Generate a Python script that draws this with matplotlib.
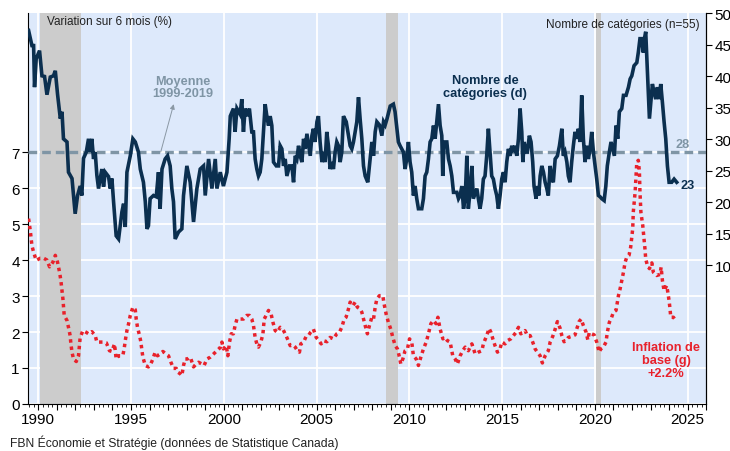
import matplotlib
matplotlib.use("Agg")
import matplotlib.pyplot as plt
from matplotlib.ticker import MultipleLocator, FuncFormatter

plt.rcParams["font.family"] = ["Liberation Sans", "DejaVu Sans"]

# Number of categories (right axis) - decimal year, value
cat_years = [
    1989.48, 1989.66, 1989.75, 1989.80, 1989.89, 1990.07, 1990.20, 1990.34, 1990.47, 1990.65,
    1990.82, 1990.92, 1991.04, 1991.19, 1991.28, 1991.36, 1991.55, 1991.63, 1991.82, 1991.99,
    1992.12, 1992.26, 1992.35, 1992.44, 1992.59, 1992.71, 1992.80, 1992.89, 1992.98, 1993.07,
    1993.16, 1993.25, 1993.43, 1993.52, 1993.61, 1993.79, 1993.88, 1993.97, 1994.06, 1994.20,
    1994.33, 1994.51, 1994.60, 1994.69, 1994.78, 1994.96, 1995.10, 1995.23, 1995.40, 1995.50,
    1995.67, 1995.77, 1995.86, 1995.94, 1996.03, 1996.21, 1996.36, 1996.48, 1996.57, 1996.67,
    1996.84, 1996.97, 1997.11, 1997.20, 1997.29, 1997.38, 1997.56, 1997.74, 1997.83, 1998.01,
    1998.19, 1998.37, 1998.55, 1998.73, 1998.91, 1999.00, 1999.18, 1999.36, 1999.54, 1999.63,
    1999.81, 1999.98, 2000.17, 2000.29, 2000.35, 2000.52, 2000.61, 2000.71, 2000.88, 2000.97,
    2001.06, 2001.15, 2001.24, 2001.38, 2001.51, 2001.60, 2001.69, 2001.78, 2001.87, 2001.96,
    2002.05, 2002.14, 2002.23, 2002.32, 2002.41, 2002.50, 2002.59, 2002.68, 2002.83, 2002.95,
    2003.04, 2003.13, 2003.22, 2003.31, 2003.40, 2003.54, 2003.67, 2003.76, 2003.85, 2003.94,
    2004.03, 2004.12, 2004.21, 2004.30, 2004.39, 2004.48, 2004.66, 2004.75, 2004.83, 2004.92,
    2005.02, 2005.10, 2005.19, 2005.29, 2005.37, 2005.46, 2005.55, 2005.64, 2005.73, 2005.82,
    2005.91, 2006.00, 2006.09, 2006.18, 2006.27, 2006.36, 2006.45, 2006.60, 2006.72, 2006.81,
    2006.90, 2006.99, 2007.17, 2007.26, 2007.35, 2007.44, 2007.53, 2007.62, 2007.76, 2007.89,
    2007.98, 2008.07, 2008.16, 2008.25, 2008.39, 2008.52, 2008.61, 2008.70, 2008.79, 2008.97,
    2009.14, 2009.23, 2009.33, 2009.41, 2009.50, 2009.68, 2009.77, 2009.86, 2009.95, 2010.04,
    2010.13, 2010.22, 2010.31, 2010.40, 2010.49, 2010.67, 2010.76, 2010.85, 2010.94, 2011.03,
    2011.12, 2011.21, 2011.30, 2011.39, 2011.48, 2011.57, 2011.66, 2011.75, 2011.80, 2011.87,
    2012.02, 2012.11, 2012.20, 2012.29, 2012.38, 2012.56, 2012.65, 2012.74, 2012.83, 2012.92,
    2013.01, 2013.10, 2013.18, 2013.27, 2013.37, 2013.45, 2013.64, 2013.72, 2013.81, 2013.90,
    2013.99, 2014.08, 2014.17, 2014.26, 2014.35, 2014.44, 2014.53, 2014.62, 2014.71, 2014.80,
    2014.89, 2014.98, 2015.07, 2015.16, 2015.25, 2015.34, 2015.43, 2015.52, 2015.61, 2015.70,
    2015.79, 2015.88, 2015.97, 2016.06, 2016.12, 2016.19, 2016.28, 2016.36, 2016.47, 2016.56,
    2016.65, 2016.72, 2016.83, 2016.90, 2016.98, 2017.05, 2017.14, 2017.23, 2017.32, 2017.41,
    2017.49, 2017.59, 2017.68, 2017.76, 2017.86, 2017.98, 2018.09, 2018.22, 2018.30, 2018.39,
    2018.49, 2018.57, 2018.66, 2018.75, 2018.84, 2018.93, 2019.02, 2019.11, 2019.20, 2019.29,
    2019.38, 2019.47, 2019.56, 2019.65, 2019.74, 2019.83, 2019.92, 2020.01, 2020.10, 2020.19,
    2020.28, 2020.37, 2020.50, 2020.59, 2020.67, 2020.78, 2020.87, 2020.96, 2021.05, 2021.14,
    2021.23, 2021.32, 2021.45, 2021.54, 2021.68, 2021.81, 2021.90, 2021.99, 2022.11, 2022.26,
    2022.34, 2022.43, 2022.52, 2022.61, 2022.67, 2022.74, 2022.83, 2022.94, 2023.03, 2023.10,
    2023.19, 2023.28, 2023.37, 2023.46, 2023.55, 2023.64, 2023.73, 2023.82, 2023.91, 2024.00,
    2024.14, 2024.27, 2024.41,
]
cat_values = [
    47.3, 44.9, 44.9, 38.3, 42.8, 44.1, 40.1, 40.0, 37.1, 39.9,
    40.1, 40.9, 37.2, 33.3, 34.4, 30.1, 29.6, 24.8, 23.8, 18.2,
    21.1, 22.6, 21.1, 27.0, 28.0, 30.1, 28.0, 30.1, 26.9, 28.0,
    24.3, 22.2, 25.3, 22.5, 24.8, 24.1, 22.2, 23.8, 20.1, 14.7,
    14.2, 18.5, 19.8, 16.1, 24.8, 27.4, 30.1, 29.6, 28.0, 25.3,
    23.2, 20.1, 15.8, 16.3, 20.6, 21.1, 20.9, 24.8, 19.0, 25.3,
    26.9, 27.4, 25.8, 22.2, 20.1, 14.2, 15.3, 15.8, 21.1, 25.8,
    23.2, 16.9, 22.2, 25.3, 25.8, 21.1, 26.9, 22.2, 26.9, 22.2,
    24.8, 22.6, 24.8, 30.1, 33.7, 34.9, 31.2, 34.9, 34.0, 36.4,
    31.2, 34.9, 33.7, 34.9, 31.2, 31.2, 26.9, 25.3, 24.2, 24.8,
    26.9, 31.2, 35.6, 33.7, 32.2, 33.7, 32.2, 26.4, 25.8, 25.8,
    29.0, 28.5, 25.8, 26.9, 24.2, 25.8, 25.8, 23.2, 27.4, 26.9,
    29.0, 27.4, 26.4, 30.1, 28.5, 30.9, 27.4, 30.6, 31.7, 29.6,
    32.8, 33.7, 29.6, 26.4, 28.0, 26.4, 31.2, 29.0, 25.3, 26.4,
    25.3, 28.0, 29.6, 29.0, 26.4, 28.0, 33.7, 32.8, 30.6, 29.0,
    28.5, 29.6, 32.8, 36.7, 33.2, 30.1, 25.8, 24.2, 23.2, 26.9,
    29.6, 27.4, 31.2, 32.8, 32.3, 30.6, 32.8, 32.3, 33.2, 35.3,
    35.6, 34.4, 31.7, 29.6, 29.0, 28.0, 25.3, 26.9, 29.6, 26.4,
    24.8, 21.1, 22.6, 20.6, 19.0, 19.0, 20.6, 24.2, 24.8, 26.9,
    29.6, 30.1, 32.2, 30.1, 32.8, 35.6, 32.2, 30.6, 24.2, 29.6,
    29.6, 26.9, 25.8, 24.2, 21.6, 21.6, 20.6, 21.1, 22.6, 19.0,
    20.6, 27.4, 19.0, 21.6, 25.8, 20.6, 22.2, 20.6, 19.0, 20.6,
    23.7, 24.2, 27.4, 31.7, 28.0, 24.2, 23.7, 22.2, 21.1, 19.0,
    21.1, 23.7, 24.8, 23.2, 26.4, 28.5, 27.4, 29.0, 28.0, 29.0,
    27.4, 30.1, 34.9, 31.2, 26.4, 29.6, 28.0, 28.0, 30.6, 29.6,
    26.4, 22.6, 20.6, 22.6, 21.1, 24.2, 25.8, 24.8, 23.2, 22.2,
    21.1, 25.8, 23.7, 23.2, 26.9, 27.4, 29.0, 31.7, 27.4, 28.0,
    26.4, 24.2, 23.2, 26.4, 29.0, 31.2, 30.1, 31.7, 29.6, 37.0,
    30.1, 26.4, 29.0, 26.9, 28.5, 31.2, 28.0, 25.8, 23.7, 21.1,
    20.9, 20.6, 20.3, 22.6, 25.8, 28.0, 29.6, 28.5, 27.4, 32.2,
    30.1, 34.4, 34.9, 37.0, 37.0, 38.3, 39.6, 40.1, 41.7, 42.2,
    43.8, 46.0, 46.0, 43.8, 46.0, 47.1, 40.7, 33.3, 36.4, 38.8,
    37.5, 36.4, 38.3, 36.4, 38.8, 35.9, 32.8, 30.1, 25.8, 23.2,
    23.2, 23.7, 23.2,
]

# Core inflation, 6-month change annualized (left axis)
infl_years = [
    1989.48, 1989.57, 1989.66, 1989.75, 1989.89, 1990.11, 1990.29, 1990.47, 1990.61, 1990.79,
    1990.92, 1991.04, 1991.15, 1991.22, 1991.28, 1991.33, 1991.40, 1991.55, 1991.63, 1991.72,
    1991.76, 1991.82, 1991.90, 1992.05, 1992.17, 1992.22, 1992.26, 1992.41, 1992.59, 1992.71,
    1992.89, 1993.07, 1993.16, 1993.34, 1993.52, 1993.67, 1993.84, 1993.97, 1994.11, 1994.20,
    1994.33, 1994.42, 1994.56, 1994.63, 1994.69, 1994.78, 1994.87, 1994.96, 1995.10, 1995.23,
    1995.28, 1995.35, 1995.46, 1995.53, 1995.59, 1995.64, 1995.77, 1995.94, 1996.03, 1996.18,
    1996.30, 1996.43, 1996.57, 1996.72, 1996.88, 1997.02, 1997.15, 1997.29, 1997.44, 1997.53,
    1997.65, 1997.74, 1997.83, 1997.92, 1998.04, 1998.15, 1998.23, 1998.37, 1998.51, 1998.64,
    1998.82, 1998.94, 1999.09, 1999.27, 1999.45, 1999.63, 1999.81, 1999.90, 1999.98, 2000.13,
    2000.22, 2000.31, 2000.40, 2000.52, 2000.61, 2000.71, 2000.88, 2001.06, 2001.24, 2001.38,
    2001.51, 2001.60, 2001.69, 2001.78, 2001.87, 2002.00, 2002.11, 2002.18, 2002.28, 2002.41,
    2002.55, 2002.65, 2002.77, 2002.89, 2003.04, 2003.18, 2003.31, 2003.43, 2003.58, 2003.72,
    2003.85, 2003.97, 2004.08, 2004.15, 2004.30, 2004.44, 2004.56, 2004.69, 2004.83, 2004.98,
    2005.10, 2005.25, 2005.37, 2005.56, 2005.73, 2005.91, 2006.09, 2006.23, 2006.36, 2006.49,
    2006.59, 2006.72, 2006.81, 2006.96, 2007.08, 2007.20, 2007.35, 2007.44, 2007.53, 2007.62,
    2007.74, 2007.85, 2007.98, 2008.07, 2008.16, 2008.25, 2008.39, 2008.57, 2008.64, 2008.75,
    2008.87, 2009.00, 2009.11, 2009.24, 2009.36, 2009.47, 2009.54, 2009.65, 2009.77, 2009.90,
    2010.01, 2010.13, 2010.22, 2010.37, 2010.49, 2010.62, 2010.76, 2010.91, 2011.03, 2011.16,
    2011.30, 2011.44, 2011.54, 2011.66, 2011.81, 2011.93, 2012.05, 2012.20, 2012.34, 2012.47,
    2012.59, 2012.74, 2012.88, 2013.01, 2013.18, 2013.37, 2013.55, 2013.72, 2013.91, 2013.99,
    2014.17, 2014.30, 2014.40, 2014.50, 2014.62, 2014.75, 2014.89, 2014.98, 2015.16, 2015.29,
    2015.47, 2015.61, 2015.75, 2015.88, 2016.01, 2016.15, 2016.24, 2016.36, 2016.51, 2016.65,
    2016.78, 2016.90, 2017.05, 2017.17, 2017.32, 2017.49, 2017.59, 2017.73, 2017.86, 2017.98,
    2018.13, 2018.22, 2018.34, 2018.45, 2018.57, 2018.76, 2018.93, 2019.02, 2019.15, 2019.26,
    2019.38, 2019.53, 2019.62, 2019.70, 2019.83, 2019.96, 2020.10, 2020.23, 2020.32, 2020.46,
    2020.60, 2020.67, 2020.78, 2020.87, 2021.00, 2021.14, 2021.27, 2021.36, 2021.45, 2021.54,
    2021.63, 2021.72, 2021.84, 2021.93, 2021.99, 2022.04, 2022.07, 2022.17, 2022.22, 2022.26,
    2022.34, 2022.40, 2022.43, 2022.48, 2022.58, 2022.65, 2022.70, 2022.74, 2022.83, 2022.94,
    2023.07, 2023.15, 2023.33, 2023.51, 2023.57, 2023.64, 2023.73, 2023.87, 2023.93, 2024.00,
    2024.05, 2024.09, 2024.23, 2024.36,
]
infl_values = [
    5.15, 4.82, 4.40, 4.22, 3.99, 4.05, 4.05, 4.00, 3.81, 3.94,
    4.13, 3.94, 3.66, 3.43, 3.15, 2.92, 2.46, 2.32, 2.13, 1.90,
    1.67, 1.44, 1.25, 1.18, 1.34, 1.62, 1.85, 2.04, 1.99, 1.95,
    2.01, 1.90, 1.72, 1.72, 1.72, 1.70, 1.48, 1.46, 1.67, 1.25,
    1.34, 1.34, 1.35, 1.53, 1.76, 2.04, 2.23, 2.46, 2.69, 2.62,
    2.36, 2.13, 1.90, 1.73, 1.48, 1.30, 1.07, 1.03, 1.07, 1.25,
    1.44, 1.34, 1.39, 1.46, 1.39, 1.34, 1.16, 0.99, 0.99, 0.88,
    0.84, 0.79, 1.07, 1.25, 1.25, 1.30, 1.25, 1.03, 1.11, 1.16,
    1.11, 1.07, 1.25, 1.30, 1.39, 1.48, 1.57, 1.72, 1.53, 1.62,
    1.34, 1.72, 1.95, 1.95, 2.18, 2.36, 2.36, 2.36, 2.46, 2.46,
    2.36, 2.18, 1.85, 1.67, 1.58, 1.72, 1.95, 2.36, 2.46, 2.60,
    2.50, 2.27, 2.04, 1.99, 2.13, 2.08, 1.95, 1.81, 1.62, 1.64,
    1.58, 1.48, 1.44, 1.67, 1.72, 1.88, 1.90, 2.00, 2.08, 1.85,
    1.78, 1.67, 1.76, 1.73, 1.85, 1.81, 1.95, 1.99, 2.13, 2.36,
    2.41, 2.64, 2.83, 2.73, 2.83, 2.69, 2.64, 2.55, 2.36, 2.18,
    1.95, 2.18, 2.41, 2.36, 2.69, 2.92, 3.01, 3.01, 2.78, 2.50,
    2.27, 2.08, 1.85, 1.62, 1.53, 1.30, 1.11, 1.25, 1.48, 1.53,
    1.81, 1.72, 1.34, 1.25, 1.07, 1.30, 1.53, 1.72, 1.95, 2.23,
    2.32, 2.23, 2.41, 2.08, 1.81, 1.85, 1.76, 1.72, 1.34, 1.25,
    1.11, 1.34, 1.48, 1.58, 1.48, 1.67, 1.39, 1.44, 1.48, 1.67,
    1.90, 2.10, 1.99, 1.81, 1.62, 1.44, 1.53, 1.72, 1.67, 1.76,
    1.81, 1.90, 1.99, 2.13, 1.95, 1.99, 2.04, 1.90, 1.90, 1.72,
    1.53, 1.44, 1.34, 1.14, 1.34, 1.48, 1.72, 1.88, 2.08, 2.29,
    2.10, 1.90, 1.73, 1.76, 1.85, 1.88, 1.92, 2.08, 2.29, 2.36,
    2.18, 1.99, 1.78, 1.99, 1.95, 1.92, 1.72, 1.44, 1.53, 1.58,
    1.72, 1.99, 2.27, 2.36, 2.55, 2.60, 3.01, 3.20, 3.43, 3.66,
    3.94, 4.08, 4.13, 4.36, 4.64, 4.87, 5.33, 5.89, 6.35, 6.72,
    6.77, 6.45, 5.89, 5.33, 4.96, 4.59, 4.31, 4.03, 3.85, 3.76,
    3.92, 3.66, 3.57, 3.60, 3.80, 3.43, 3.15, 3.29, 3.11, 2.87,
    2.64, 2.41, 2.41, 2.32,
]

recessions = [(1990.1, 1992.3), (2008.75, 2009.4), (2020.08, 2020.33)]
mean_categories = 28
x_labels = [1990, 1995, 2000, 2005, 2010, 2015, 2020, 2025]
left_ticks = [0, 1, 2, 3, 4, 5, 6, 7]
right_ticks = [10, 15, 20, 25, 30, 35, 40, 45, 50]

NAVY = "#0b2f4f"
RED = "#e8212b"
GREYBLUE = "#7f95a5"
BG = "#dde9fb"

fig = plt.figure(figsize=(7.3, 4.52), dpi=100)
ax = fig.add_axes([0.0384, 0.104, 0.929, 0.864])
ax.set_facecolor(BG)
ax2 = ax.twinx()

ax.set_xlim(1989.45, 2026.0)
ax.set_ylim(0, 10.85)
ax2.set_ylim(-12, 50)

# grid
ax.set_axisbelow(True)
ax.set_yticks(left_ticks)
ax.yaxis.grid(True, color="white", lw=1.3)
for yr in x_labels:
    ax.axvline(yr, color="white", lw=1.3, zorder=0.6)

for start, end in recessions:
    ax.axvspan(start, end, color="#cccccc", lw=0, zorder=0.8)

# series
ax.plot(infl_years, infl_values, color=RED, lw=2.5, linestyle=(0, (1, 1.1)),
        dash_capstyle="butt", zorder=3)
ax2.axhline(mean_categories, color=GREYBLUE, lw=2.4, linestyle=(0, (2.6, 1.5)), zorder=2)
ax2.plot(cat_years, cat_values, color=NAVY, lw=2.6, zorder=3, solid_joinstyle="miter")

# ticks
ax.xaxis.set_major_locator(MultipleLocator(1))
ax.xaxis.set_minor_locator(MultipleLocator(0.25))
ax.xaxis.set_major_formatter(FuncFormatter(lambda v, p: f"{int(round(v))}" if round(v) % 5 == 0 else ""))
ax.tick_params(axis="x", which="major", length=4, width=0.8, labelsize=11, pad=2)
ax.tick_params(axis="x", which="minor", length=2.5, width=0.6)
ax.tick_params(axis="y", length=4, width=0.8, labelsize=11, pad=2)
ax2.set_yticks(right_ticks)
ax2.tick_params(axis="y", length=4, width=0.8, labelsize=11, pad=2)

for a in (ax, ax2):
    a.spines["top"].set_visible(False)
ax2.spines["left"].set_visible(False)
ax2.spines["bottom"].set_visible(False)

# labels
ax.text(0.028, 0.98, "Variation sur 6 mois (%)", transform=ax.transAxes,
        fontsize=8.5, va="center", ha="left", color="#222222")
ax.text(0.991, 0.973, "Nombre de catégories (n=55)", transform=ax.transAxes,
        fontsize=8.5, va="center", ha="right", color="#222222")

ax2.annotate("Moyenne\n1999-2019", xy=(1997.27, 35.5), xytext=(1997.8, 38.3),
             ha="center", va="center", fontsize=9.2, fontweight="bold", color=GREYBLUE,
             linespacing=1.05)
ax2.annotate("", xy=(1997.3, 35.6), xytext=(1996.6, 28),
             arrowprops=dict(arrowstyle="-|>", color="#8a98a4", lw=0.7,
                             mutation_scale=7, shrinkA=0, shrinkB=0))
ax2.text(2014.1, 38.4, "Nombre de\ncatégories (d)", ha="center", va="center",
         fontsize=9.2, fontweight="bold", color=NAVY, linespacing=1.05)
ax2.text(2024.75, 29.3, str(mean_categories), ha="center", va="center",
         fontsize=9.2, fontweight="bold", color=GREYBLUE)
ax2.text(2024.6, cat_values[-1] - 0.4, f"{cat_values[-1]:.0f}", ha="left", va="center",
         fontsize=9.2, fontweight="bold", color=NAVY)
ax.text(2023.85, 1.22, "Inflation de\nbase (g)\n+2.2%", ha="center", va="center",
        fontsize=9.2, fontweight="bold", color=RED, linespacing=1.1)

fig.text(0.0137, 0.02, "FBN Économie et Stratégie (données de Statistique Canada)",
         fontsize=8.7, ha="left", va="center", color="#222222")

fig.savefig("out.png", dpi=100)
